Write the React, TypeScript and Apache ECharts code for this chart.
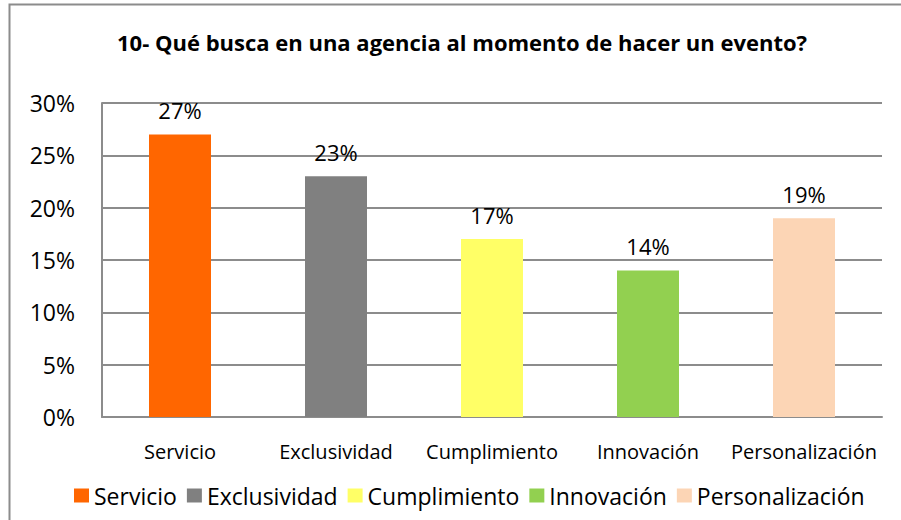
import React, { useEffect, useRef } from "react";
import * as echarts from "echarts";

const titleText = "10- Qué busca en una agencia al momento de hacer un evento?";
const categories = ["Servicio", "Exclusividad", "Cumplimiento", "Innovación", "Personalización"];
const values = [27, 23, 17, 14, 19];
const colors = ["#FF6600", "#808080", "#FFFF66", "#92D050", "#FCD5B5"];
const yTicks = { min: 0, max: 30, interval: 5 };

const FONT = "Open Sans";

export default function App() {
  const ref = useRef<HTMLDivElement>(null);
  useEffect(() => {
    if (!ref.current) return;
    const chart = echarts.init(ref.current, null, { renderer: "svg" });
    const series = categories.map((name, i) => ({
      name,
      type: "bar",
      barWidth: 62,
      barGap: "-100%",
      itemStyle: { color: colors[i] },
      label: {
        show: true,
        position: "top",
        distance: 13,
        formatter: "{c}%",
        fontFamily: FONT,
        fontSize: 22,
        color: "#000",
      },
      data: categories.map((_, j) => (j === i ? values[i] : "-")),
    }));
    chart.setOption({
      animation: false,
      backgroundColor: "#fff",
      textStyle: { fontFamily: FONT },
      title: {
        text: titleText,
        left: 112,
        top: 26,
        textStyle: { fontFamily: FONT, fontWeight: "bold", fontSize: 22, color: "#000" },
      },
      graphic: [
        {
          type: "rect",
          shape: { x: 9.5, y: 4.5, width: 1000, height: 600 },
          style: { fill: "none", stroke: "#8c8c8c", lineWidth: 2 },
          silent: true,
        },
      ],
      grid: { left: 102, right: 19, top: 103, bottom: 103 },
      legend: {
        bottom: 8,
        left: 69,
        itemWidth: 15,
        itemHeight: 14,
        itemGap: 10,
        icon: "rect",
        textStyle: { fontFamily: FONT, fontSize: 23, color: "#000" },
        data: categories,
      },
      xAxis: {
        type: "category",
        data: categories,
        axisLine: { show: true, lineStyle: { color: "#8c8c8c", width: 2 } },
        axisTick: { show: false },
        axisLabel: { fontFamily: FONT, fontSize: 20, color: "#000", margin: 24, interval: 0 },
      },
      yAxis: {
        type: "value",
        min: yTicks.min,
        max: yTicks.max,
        interval: yTicks.interval,
        axisLine: { show: true, lineStyle: { color: "#8c8c8c", width: 2 } },
        axisTick: { show: false },
        splitLine: { show: true, lineStyle: { color: "#8c8c8c", width: 2 } },
        axisLabel: { formatter: "{value}%", fontFamily: FONT, fontSize: 23, color: "#000", margin: 27 },
      },
      series,
    });
    return () => chart.dispose();
  }, []);
  return (
    <div
      ref={ref}
      style={{ position: "fixed", left: 0, top: 0, width: 901, height: 520 }}
    />
  );
}
